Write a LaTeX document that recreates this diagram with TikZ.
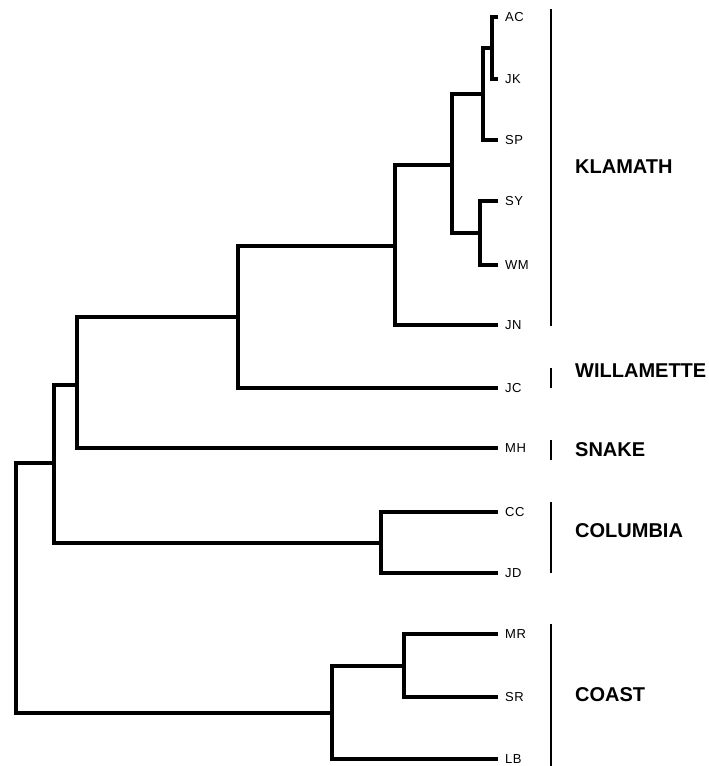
\documentclass[tikz,border=0pt]{standalone}
\usepackage{fontspec}
\setmainfont{Liberation Sans}
\newfontfamily\folhafont[LetterSpace=4]{Liberation Sans}

\begin{document}
\begin{tikzpicture}[x=1pt, y=-1pt,
    ramo/.style={line width=3.4pt, line join=miter},
    barra/.style={line width=2pt},
    folha/.style={anchor=west, inner sep=0pt, xshift=7pt, font=\folhafont\fontsize{13}{15}\selectfont},
    grupo/.style={anchor=west, inner sep=0pt, font=\bfseries\fontsize{20}{24}\selectfont}]
    \useasboundingbox (0,0) rectangle (709,766);
    % folhas com rótulos
    \foreach \n/\y in {AC/17, JK/79, SP/140, SY/201, WM/265, JN/325, JC/388,
                       MH/448, CC/512, JD/573, MR/634, SR/697, LB/759} {
      \coordinate (\n) at (498,\y);
      \node[folha] (t\n) at (\n) {\n};
    }
    % nós internos
    \coordinate (n1) at (492,48);
    \coordinate (n2) at (483,94);
    \coordinate (n3) at (480,233);
    \coordinate (n4) at (452,165);
    \coordinate (n5) at (395,246);
    \coordinate (n6) at (238,317);
    \coordinate (n7) at (77,385);
    \coordinate (n8) at (381,543);
    \coordinate (n9) at (54,463);
    \coordinate (n10) at (404,666);
    \coordinate (n11) at (332,713);
    \coordinate (n12) at (16,588);
    % ramos da árvore
    \draw[ramo] (AC) -| (n1) |- (JK);
    \draw[ramo] (n1) -| (n2) |- (SP);
    \draw[ramo] (SY) -| (n3) |- (WM);
    \draw[ramo] (n2) -| (n4) |- (n3);
    \draw[ramo] (n4) -| (n5) |- (JN);
    \draw[ramo] (n5) -| (n6) |- (JC);
    \draw[ramo] (n6) -| (n7) |- (MH);
    \draw[ramo] (CC) -| (n8) |- (JD);
    \draw[ramo] (n7) -| (n9) |- (n8);
    \draw[ramo] (MR) -| (n10) |- (SR);
    \draw[ramo] (n10) -| (n11) |- (LB);
    \draw[ramo] (n9) -| (n12) |- (n11);
    % barras e nomes das bacias
    \draw[barra] (551,9) -- (551,326);
    \node[grupo] (klamath) at (575,167) {KLAMATH};
    \draw[barra] (551,368) -- (551,388);
    \node[grupo] (willamette) at (575,371) {WILLAMETTE};
    \draw[barra] (551,440) -- (551,460);
    \node[grupo] (snake) at (575,449.5) {SNAKE};
    \draw[barra] (551,502) -- (551,573);
    \node[grupo] (columbia) at (575,531) {COLUMBIA};
    \draw[barra] (551,624) -- (551,766);
    \node[grupo] (coast) at (575,695) {COAST};
\end{tikzpicture}
\end{document}
